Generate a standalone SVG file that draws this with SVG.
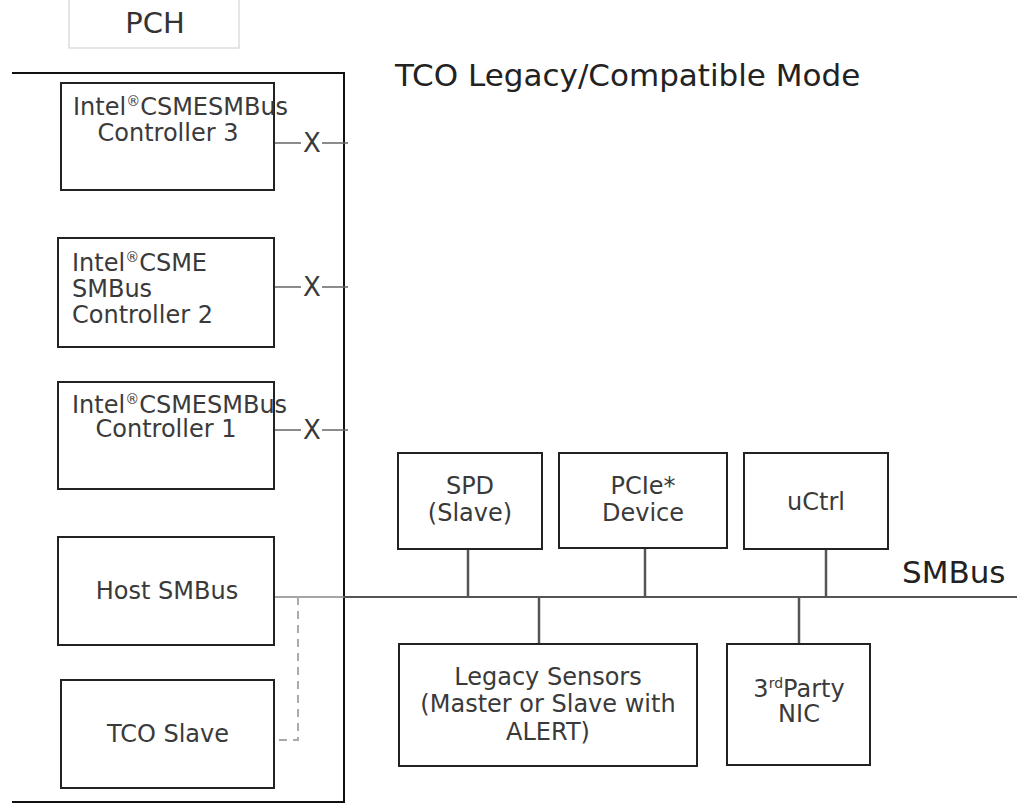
<svg xmlns="http://www.w3.org/2000/svg" width="1019" height="804" viewBox="0 0 1019 804">
<style>
  .box { fill: #ffffff; stroke: #222222; stroke-width: 2; }
  .lbl { font-family: "DejaVu Sans", Verdana, sans-serif; font-size: 24px; fill: #3a3a3a; }
  .mid { text-anchor: middle; }
  .big { font-family: "DejaVu Sans", Verdana, sans-serif; font-size: 31px; fill: #222222; }
  .sup { font-size: 14px; }
  .conn { stroke: #555555; stroke-width: 2.5; fill: none; }
  .thin { stroke: #666666; stroke-width: 1.5; fill: none; }
</style>
<rect width="1019" height="804" fill="#ffffff"/>

<g id="pch-label">
  <rect x="69" y="-2" width="170" height="50" fill="#ffffff" stroke="#cccccc" stroke-width="1"/>
  <text x="155" y="33" class="big mid" style="font-size:29px;fill:#333333">PCH</text>
</g>

<g id="pch-outline">
  <path d="M12 73 H344 V802 H12" fill="none" stroke="#111111" stroke-width="2"/>
</g>

<text id="title" x="395" y="86" class="big">TCO Legacy/Compatible Mode</text>
<text id="smbus-label" x="902" y="583" class="big">SMBus</text>

<g id="connectors">
  <!-- X connectors -->
  <line x1="274" y1="143" x2="301" y2="143" class="thin"/>
  <line x1="322" y1="143" x2="348" y2="143" class="thin"/>
  <line x1="274" y1="287" x2="301" y2="287" class="thin"/>
  <line x1="322" y1="287" x2="348" y2="287" class="thin"/>
  <line x1="274" y1="430" x2="301" y2="430" class="thin"/>
  <line x1="322" y1="430" x2="348" y2="430" class="thin"/>
  <text x="312" y="152" class="lbl mid" style="font-size:26px">X</text>
  <text x="312" y="296" class="lbl mid" style="font-size:26px">X</text>
  <text x="312" y="439" class="lbl mid" style="font-size:26px">X</text>
  <!-- bus -->
  <line x1="274" y1="597" x2="344" y2="597" stroke="#888888" stroke-width="1.5"/>
  <line x1="344" y1="597" x2="1017" y2="597" class="conn" style="stroke-width:2"/>
  <path d="M298 597 V740 H277" fill="none" stroke="#aaaaaa" stroke-width="2" stroke-dasharray="8 6"/>
  <line x1="468" y1="549" x2="468" y2="597" class="conn"/>
  <line x1="645" y1="548" x2="645" y2="597" class="conn"/>
  <line x1="826" y1="549" x2="826" y2="597" class="conn"/>
  <line x1="539" y1="597" x2="539" y2="644" class="conn"/>
  <line x1="799" y1="597" x2="799" y2="644" class="conn"/>
</g>

<g id="ctrl3">
  <rect x="61" y="83" width="213" height="107" class="box"/>
  <text x="73" y="115" class="lbl">Intel<tspan class="sup" dy="-9">®</tspan><tspan dy="9">CSMESMBus</tspan></text>
  <text x="168" y="141" class="lbl mid">Controller 3</text>
</g>

<g id="ctrl2">
  <rect x="58" y="238" width="216" height="109" class="box"/>
  <text x="72" y="271" class="lbl">Intel<tspan class="sup" dy="-9">®</tspan><tspan dy="9">CSME</tspan></text>
  <text x="72" y="297" class="lbl">SMBus</text>
  <text x="72" y="323" class="lbl">Controller 2</text>
</g>

<g id="ctrl1">
  <rect x="58" y="382" width="216" height="107" class="box"/>
  <text x="72" y="413" class="lbl">Intel<tspan class="sup" dy="-9">®</tspan><tspan dy="9">CSMESMBus</tspan></text>
  <text x="166" y="437" class="lbl mid">Controller 1</text>
</g>

<g id="host-smbus">
  <rect x="58" y="537" width="216" height="108" class="box"/>
  <text x="167" y="599" class="lbl mid">Host SMBus</text>
</g>

<g id="tco-slave">
  <rect x="61" y="680" width="213" height="108" class="box"/>
  <text x="168" y="742" class="lbl mid">TCO Slave</text>
</g>

<g id="spd">
  <rect x="398" y="453" width="144" height="96" class="box"/>
  <text x="470" y="494" class="lbl mid">SPD</text>
  <text x="470" y="521" class="lbl mid">(Slave)</text>
</g>

<g id="pcie">
  <rect x="559" y="453" width="168" height="95" class="box"/>
  <text x="643" y="494" class="lbl mid">PCIe*</text>
  <text x="643" y="521" class="lbl mid">Device</text>
</g>

<g id="uctrl">
  <rect x="744" y="453" width="144" height="96" class="box"/>
  <text x="816" y="510" class="lbl mid">uCtrl</text>
</g>

<g id="legacy-sensors">
  <rect x="399" y="644" width="298" height="122" class="box"/>
  <text x="548" y="685" class="lbl mid">Legacy Sensors</text>
  <text x="548" y="712" class="lbl mid">(Master or Slave with</text>
  <text x="548" y="740" class="lbl mid">ALERT)</text>
</g>

<g id="nic">
  <rect x="727" y="644" width="143" height="121" class="box"/>
  <text x="799" y="697" class="lbl mid">3<tspan class="sup" dy="-9">rd</tspan><tspan dy="9">Party</tspan></text>
  <text x="799" y="722" class="lbl mid">NIC</text>
</g>
</svg>
